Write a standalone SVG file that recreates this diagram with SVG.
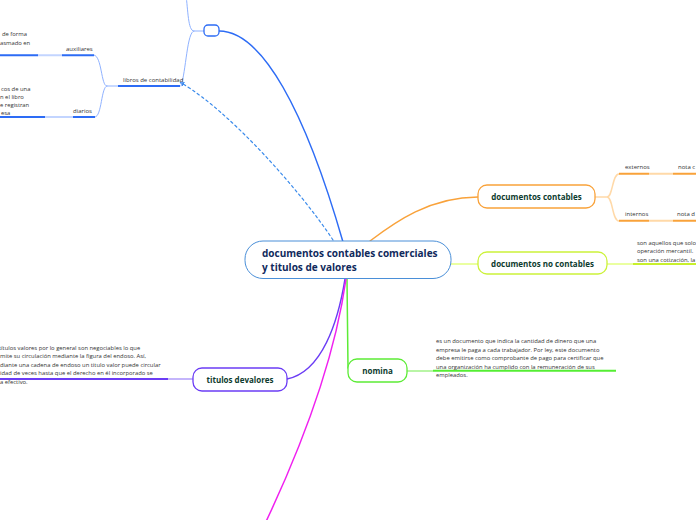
<svg xmlns="http://www.w3.org/2000/svg" width="696" height="520" viewBox="0 0 696 520">
<defs>
<marker id="arr" viewBox="0 0 6 6" refX="1" refY="3" markerWidth="5" markerHeight="5" orient="auto-start-reverse" markerUnits="userSpaceOnUse">
<path d="M0,0 L6,3 L0,6 z" fill="#3b8beb"/>
</marker>
<style>
.t{font-family:"Open Sans","Noto Sans","Liberation Sans",sans-serif;font-size:5.85px;fill:#333}
.lb{font-family:"Open Sans","Noto Sans","Liberation Sans",sans-serif;font-size:6px;fill:#333}
.nl{font-family:"Open Sans","Noto Sans","Liberation Sans",sans-serif;font-size:8px;font-weight:bold;fill:#0d3b2e;text-anchor:middle}
.cl{font-family:"Open Sans","Noto Sans","Liberation Sans",sans-serif;font-size:10px;font-weight:bold;fill:#102a5c}
.c{fill:none;stroke-linecap:round}
</style>
</defs>
<rect width="696" height="520" fill="#ffffff"/>
<g id="connectors">
<path class="c" d="M219,31 C262,31 305,110 343,242" stroke="#2d6cf5" stroke-width="1.5"/>
<path class="c" d="M333,240 C300,190 230,112 183,84" stroke="#3b8beb" stroke-width="1.2" stroke-dasharray="2.5,3" marker-end="url(#arr)"/>
<path class="c" d="M204,31 L194,31 C188,31 188,10 186,-5" stroke="#8fb2ff" stroke-width="1"/>
<path class="c" d="M194,31 C187,31 186,72 181,86" stroke="#8fb2ff" stroke-width="1"/>
<path class="c" d="M118,86 L107,86 C101,86 102,56 94,55" stroke="#8fb2ff" stroke-width="1"/>
<path class="c" d="M107,86 C101,86 102,117 95,117" stroke="#8fb2ff" stroke-width="1"/>
<path class="c" d="M38,55.3 L62,55.3" stroke="#c3d5ff" stroke-width="2"/>
<path class="c" d="M45,117 L73,117" stroke="#c3d5ff" stroke-width="2"/>
<path d="M0,55.3 L38,55.3 M62,55.3 L94,55.3 M0,117 L45,117 M73,117 L95,117 M118,86 L180,86" stroke="#2d6cf5" stroke-width="2" fill="none"/>
<path class="c" d="M370,241 C395,222 430,197 478,197" stroke="#f9a23a" stroke-width="1.5"/>
<path class="c" d="M595,197 L607,197 C613,197 612,174 619,174 M607,197 C613,197 612,221 619,221" stroke="#ffd9a8" stroke-width="1.5"/>
<path d="M649,173.7 L673,173.7 M649,220.7 L673,220.7" stroke="#ffd9a8" stroke-width="2" fill="none"/>
<path d="M619,173.7 L649,173.7 M673,173.7 L696,173.7 M619,220.7 L649,220.7 M673,220.7 L696,220.7" stroke="#f9a23a" stroke-width="2" fill="none"/>
<path d="M451,264 L478,264 M607,264 L633,264" stroke="#eaffa0" stroke-width="2" fill="none"/>
<path d="M633,264 L696,264" stroke="#c8f02c" stroke-width="2" fill="none"/>
<path class="c" d="M347,279 L348,368" stroke="#5cec36" stroke-width="1.5"/>
<path d="M407,371 L433,371" stroke="#b9f5a6" stroke-width="2" fill="none"/>
<path d="M433,370.7 L616,370.7" stroke="#55ee33" stroke-width="2" fill="none"/>
<path class="c" d="M345,279 C338,322 322,372 287,379" stroke="#6b3cf5" stroke-width="1.5"/>
<path d="M168,379 L193,379" stroke="#c4b5fb" stroke-width="2" fill="none"/>
<path d="M0,379 L168,379" stroke="#6b3cf5" stroke-width="2" fill="none"/>
<path class="c" d="M346,279 C336,350 310,430 262,530" stroke="#f020f0" stroke-width="1.5"/>
</g>
<g id="node-central">
<rect x="245" y="241" width="206" height="37.5" rx="18" fill="#ffffff" stroke="#4a8fd8" stroke-width="1"/>
<text class="cl" x="262" y="257.3">documentos contables comerciales</text>
<text class="cl" x="262" y="270.7">y titulos de valores</text>
</g>
<g id="node-small">
<rect x="204" y="25" width="15" height="11" rx="4" fill="#ffffff" stroke="#2d6cf5" stroke-width="1.3"/>
</g>
<g id="node-libros">
<text class="lb" x="123" y="81.7">libros de contabilidad</text>
</g>
<g id="node-auxiliares">
<text class="lb" x="66" y="50.7">auxiliares</text>
</g>
<g id="node-auxiliares-text">
<text class="t" x="2" y="36">de forma</text>
<text class="t" x="0" y="44.5">asmado en</text>
</g>
<g id="node-diarios">
<text class="lb" x="73" y="113.3">diarios</text>
</g>
<g id="node-diarios-text">
<text class="t" x="1" y="90.5">cos de una</text>
<text class="t" x="0" y="98.5">n el libro</text>
<text class="t" x="0" y="106.5">e registran</text>
<text class="t" x="1" y="114.5">esa</text>
</g>
<g id="node-doc-contables">
<rect x="478" y="185" width="117" height="23" rx="9" fill="#ffffff" stroke="#f9a23a" stroke-width="1.3"/>
<text class="nl" x="536.5" y="200">documentos contables</text>
</g>
<g id="node-externos">
<text class="lb" x="625" y="169">externos</text>
</g>
<g id="node-nota-c">
<text class="lb" x="678" y="169">nota c</text>
</g>
<g id="node-internos">
<text class="lb" x="625" y="215.5">internos</text>
</g>
<g id="node-nota-d">
<text class="lb" x="677" y="215.5">nota d</text>
</g>
<g id="node-doc-no-contables">
<rect x="478" y="252" width="129" height="22" rx="9" fill="#ffffff" stroke="#ccf23a" stroke-width="1.3"/>
<text class="nl" x="542.5" y="266.7">documentos no contables</text>
</g>
<g id="node-no-contables-text">
<text class="t" x="637" y="245">son aquellos que solo</text>
<text class="t" x="637" y="253">operación mercantil.</text>
<text class="t" x="637" y="261.5">son una cotización, la</text>
</g>
<g id="node-nomina">
<rect x="348" y="359" width="59" height="23" rx="9" fill="#ffffff" stroke="#5cec36" stroke-width="1.3"/>
<text class="nl" x="377.5" y="374">nomina</text>
</g>
<g id="node-nomina-text">
<text class="t" x="436" y="343.3">es un documento que indica la cantidad de dinero que una</text>
<text class="t" x="436" y="351.8">empresa le paga a cada trabajador. Por ley, este documento</text>
<text class="t" x="436" y="360.3">debe emitirse como comprobante de pago para certificar que</text>
<text class="t" x="436" y="368.8">una organización ha cumplido con la remuneración de sus</text>
<text class="t" x="436" y="377.3">empleados.</text>
</g>
<g id="node-titulos">
<rect x="193" y="368" width="94" height="23" rx="9" fill="#ffffff" stroke="#6b3cf5" stroke-width="1.3"/>
<text class="nl" x="240" y="383">titulos devalores</text>
</g>
<g id="node-titulos-text">
<text class="t" x="-1" y="349.5">títulos valores por lo general son negociables lo que</text>
<text class="t" x="0" y="358">mite su circulación mediante la figura del endoso. Así,</text>
<text class="t" x="0" y="366.5">diante una cadena de endoso un titulo valor puede circular</text>
<text class="t" x="0" y="375">idad de veces hasta que el derecho en él incorporado se</text>
<text class="t" x="0" y="383.5">a efectivo.</text>
</g>
</svg>
